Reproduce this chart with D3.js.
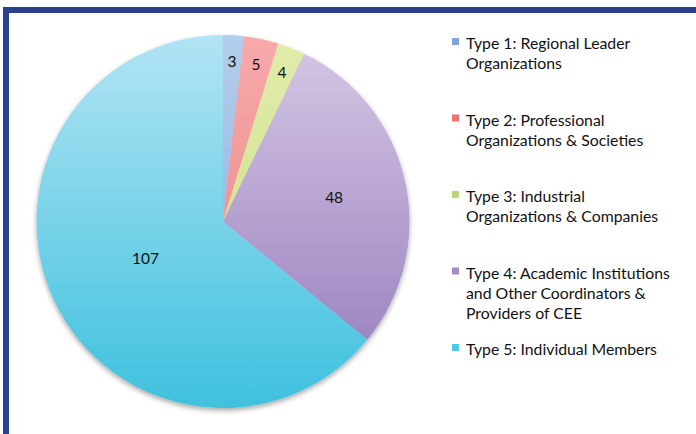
<!DOCTYPE html>
<html>
<head>
<meta charset="utf-8">
<script src="https://cdn.jsdelivr.net/npm/d3@7"></script>
<style>
  body { margin: 0; background: #fff; }
  svg { display: block; }
</style>
</head>
<body>
<div id="chart"></div>
<script>
// member counts per type
const types = ["Type 1", "Type 2", "Type 3", "Type 4", "Type 5"];
const counts = [3, 5, 4, 48, 107];
const legendLabels = [
    "Type 1: Regional Leader\nOrganizations",
    "Type 2: Professional\nOrganizations & Societies",
    "Type 3: Industrial\nOrganizations & Companies",
    "Type 4: Academic Institutions\nand Other Coordinators &\nProviders of CEE",
    "Type 5: Individual Members"
];
const lightColors = ["#b4cdec", "#f7aaaa", "#e2ecac", "#d6c8e5", "#b2e4f4"];
const darkColors = ["#86a8d8", "#e87c7c", "#c6dc7e", "#9378ba", "#3ec1de"];
const swatchColors = ["#7ea5dc", "#ea7474", "#b7d67c", "#a38dc7", "#4fc9e6"];

const width = 696, height = 434;
const cx = 223, cy = 221.5, R = 186.5;

const svg = d3.select("#chart").append("svg")
    .attr("width", width)
    .attr("height", height);

const defs = svg.append("defs");

// soft shadow under the pie
const shadow = defs.append("filter")
    .attr("id", "shadow")
    .attr("x", "-10%").attr("y", "-10%")
    .attr("width", "120%").attr("height", "125%");
shadow.append("feDropShadow")
    .attr("dx", 0).attr("dy", 2.5)
    .attr("stdDeviation", 2.5)
    .attr("flood-color", "#000")
    .attr("flood-opacity", 0.35);

types.forEach((t, i) => {
    let g = defs.append("linearGradient")
        .attr("id", "grad" + i)
        .attr("gradientUnits", "userSpaceOnUse")
        .attr("x1", 0).attr("y1", -R)
        .attr("x2", 0).attr("y2", R);
    g.append("stop").attr("offset", "0%").attr("stop-color", lightColors[i]);
    g.append("stop").attr("offset", "100%").attr("stop-color", darkColors[i]);
});

// frame
svg.append("rect")
    .attr("x", 6).attr("y", 10)
    .attr("width", width + 20).attr("height", height + 20)
    .attr("fill", "none")
    .attr("stroke", "#2a3f8d")
    .attr("stroke-width", 6);

const pie = d3.pie().sort(null).value(d => d)(counts);
const arc = d3.arc().innerRadius(0).outerRadius(R);

const pieG = svg.append("g")
    .attr("transform", `translate(${cx},${cy})`);

pieG.append("g")
    .attr("filter", "url(#shadow)")
    .selectAll("path")
    .data(pie)
    .enter().append("path")
    .attr("d", arc)
    .attr("fill", (d, i) => `url(#grad${i})`);

// label radius as fraction of R (small slices near the rim)
const labelFrac = [0.86, 0.86, 0.86, 0.61, 0.46];

pieG.selectAll(".val")
    .data(pie)
    .enter().append("text")
    .attr("class", "val")
    .attr("transform", (d, i) => {
        let a = (d.startAngle + d.endAngle) / 2;
        let r = R * labelFrac[i];
        return `translate(${r * Math.sin(a)},${-r * Math.cos(a)})`;
    })
    .attr("text-anchor", "middle")
    .attr("dy", "0.36em")
    .style("font-family", "Lato, 'Open Sans', sans-serif")
    .style("font-size", "15.5px")
    .style("fill", "#111")
    .text(d => d.data);

// legend
const legendY = d3.scalePoint().domain(types).range([49, 355]);
const lineH = 20;

const items = svg.append("g").selectAll(".legend")
    .data(types)
    .enter().append("g")
    .attr("class", "legend")
    .attr("transform", d => `translate(452,${legendY(d)})`);

items.append("rect")
    .attr("x", 0).attr("y", -11)
    .attr("width", 7).attr("height", 7)
    .attr("fill", (d, i) => swatchColors[i]);

items.append("text")
    .attr("x", 14)
    .style("font-family", "Lato, 'Open Sans', sans-serif")
    .style("font-size", "15.8px")
    .style("fill", "#111")
    .each(function (d, i) {
        d3.select(this).selectAll("tspan")
            .data(legendLabels[i].split("\n"))
            .enter().append("tspan")
            .attr("x", 14)
            .attr("y", (l, j) => j * lineH)
            .text(l => l);
    });
</script>
</body>
</html>
